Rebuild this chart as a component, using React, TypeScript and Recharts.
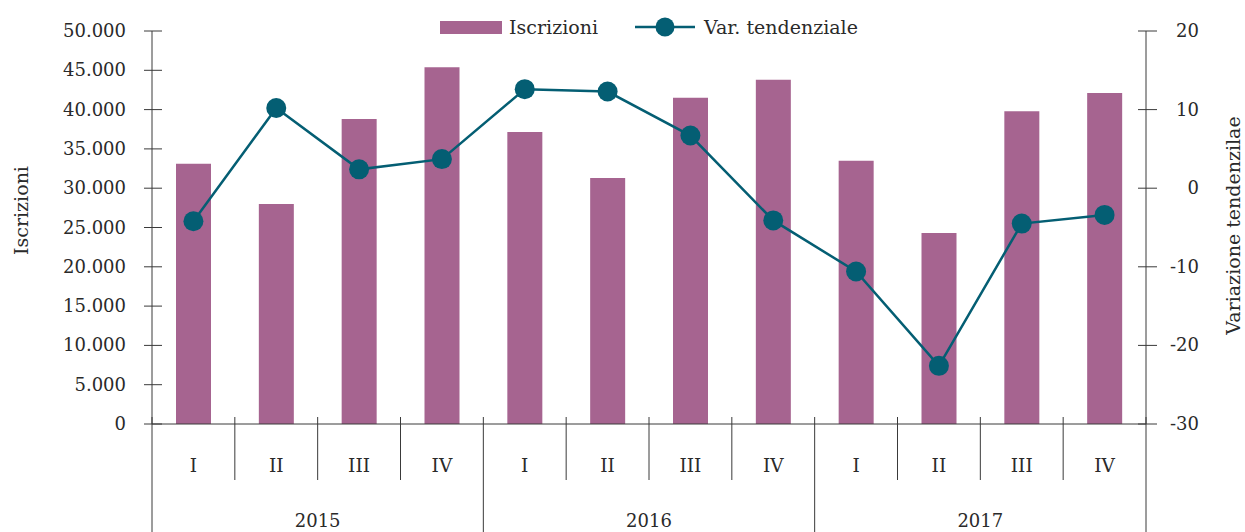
import { ComposedChart, Bar, Line, XAxis, YAxis } from "recharts"

const years = ["2015", "2016", "2017"]
const quarters = ["I", "II", "III", "IV"]

const iscrizioni = [
    33100, 28000, 38800, 45400,
    37150, 31300, 41500, 43800,
    33500, 24300, 39800, 42100,
]

const variazione = [
    -4.2, 10.2, 2.4, 3.7,
    12.6, 12.3, 6.7, -4.1,
    -10.6, -22.6, -4.5, -3.4,
]

const leftTicks = [0, 5000, 10000, 15000, 20000, 25000, 30000, 35000, 40000, 45000, 50000]
const rightTicks = [-30, -20, -10, 0, 10, 20]

const data = iscrizioni.map((v, i) => ({
    key: years[Math.floor(i / 4)] + "-" + quarters[i % 4],
    iscrizioni: v,
    variazione: variazione[i],
}))

const W = 1245
const H = 532
const LEFT_W = 152
const RIGHT_W = 99
const TOP = 31
const BOTTOM = 108
const BAND = (W - LEFT_W - RIGHT_W) / data.length

const BAR_COLOR = "#a66490"
const LINE_COLOR = "#045e73"
const AXIS_COLOR = "#3a3a3a"
const TEXT_COLOR = "#2a2a2a"
const FONT = "'DejaVu Serif', serif"

const fmtThousands = (n: number) =>
    String(n).replace(/\B(?=(\d{3})+(?!\d))/g, ".")

const LeftTick = (props: any) => {
    const { x, y, payload } = props
    return (
        <g>
            <line x1={x - 8} x2={x + 10} y1={y} y2={y} stroke={AXIS_COLOR} strokeWidth={1} />
            <text x={x - 26} y={y + 6} textAnchor="end" fill={TEXT_COLOR} fontSize={18} fontFamily={FONT}>
                {fmtThousands(payload.value)}
            </text>
        </g>
    )
}

const RightTick = (props: any) => {
    const { x, y, payload } = props
    return (
        <g>
            <line x1={x - 8} x2={x + 11} y1={y} y2={y} stroke={AXIS_COLOR} strokeWidth={1} />
            <text x={x + 53} y={y + 6} textAnchor="end" fill={TEXT_COLOR} fontSize={18} fontFamily={FONT}>
                {String(payload.value)}
            </text>
        </g>
    )
}

const XTick = (props: any) => {
    const { x, y, index } = props
    const half = BAND / 2
    const yearStart = index % 4 === 0
    const last = index === data.length - 1
    return (
        <g>
            <line
                x1={x - half}
                x2={x - half}
                y1={y - 7}
                y2={yearStart ? H : y + 56}
                stroke={AXIS_COLOR}
                strokeWidth={1}
            />
            {last && (
                <line x1={x + half} x2={x + half} y1={y - 7} y2={H} stroke={AXIS_COLOR} strokeWidth={1} />
            )}
            <text x={x} y={y + 48} textAnchor="middle" fill={TEXT_COLOR} fontSize={18.5} fontFamily={FONT}>
                {quarters[index % 4]}
            </text>
            {index % 4 === 1 && (
                <text x={x + half} y={y + 103} textAnchor="middle" fill={TEXT_COLOR} fontSize={18} fontFamily={FONT}>
                    {years[Math.floor(index / 4)]}
                </text>
            )}
        </g>
    )
}

// legend drawn outside the chart so it doesn't push the plot area down
const ChartLegend = () => (
    <div
        style={{
            position: "absolute",
            top: 15,
            left: LEFT_W,
            width: W - LEFT_W - RIGHT_W,
            display: "flex",
            justifyContent: "center",
            alignItems: "center",
            fontFamily: FONT,
            fontSize: 19,
            color: TEXT_COLOR,
            lineHeight: "24px",
        }}
    >
        <span style={{ display: "inline-block", width: 62, height: 13, background: BAR_COLOR, marginRight: 7 }} />
        <span>Iscrizioni</span>
        <svg width={60} height={22} style={{ marginLeft: 37, marginRight: 9 }}>
            <line x1={0} x2={60} y1={11} y2={11} stroke={LINE_COLOR} strokeWidth={2.5} />
            <circle cx={30} cy={11} r={9.5} fill={LINE_COLOR} />
        </svg>
        <span>Var. tendenziale</span>
    </div>
)

export default function App() {
    return (
        <div style={{ position: "absolute", left: 0, top: 0, width: W, height: H, background: "#fff" }}>
            <ComposedChart
                width={W}
                height={H}
                data={data}
                margin={{ top: TOP, right: 0, bottom: 0, left: 0 }}
                barSize={35}
            >
                <XAxis
                    dataKey="key"
                    interval={0}
                    tickLine={false}
                    tickSize={0}
                    tickMargin={0}
                    axisLine={{ stroke: AXIS_COLOR }}
                    tick={<XTick />}
                    height={BOTTOM}
                />
                <YAxis
                    yAxisId="left"
                    orientation="left"
                    width={LEFT_W}
                    domain={[0, 50000]}
                    ticks={leftTicks}
                    interval={0}
                    tickLine={false}
                    tickSize={0}
                    tickMargin={0}
                    axisLine={{ stroke: AXIS_COLOR }}
                    tick={<LeftTick />}
                    label={{
                        content: (p: any) => {
                            const vb = p.viewBox
                            const cx = 28
                            const cy = vb.y + vb.height / 2 - 17
                            return (
                                <text
                                    x={cx}
                                    y={cy}
                                    transform={`rotate(-90, ${cx}, ${cy})`}
                                    textAnchor="middle"
                                    fill={TEXT_COLOR}
                                    fontSize={19}
                                    fontFamily={FONT}
                                >
                                    Iscrizioni
                                </text>
                            )
                        },
                    }}
                />
                <YAxis
                    yAxisId="right"
                    orientation="right"
                    width={RIGHT_W}
                    domain={[-30, 20]}
                    ticks={rightTicks}
                    interval={0}
                    tickLine={false}
                    tickSize={0}
                    tickMargin={0}
                    axisLine={{ stroke: AXIS_COLOR }}
                    tick={<RightTick />}
                    label={{
                        content: (p: any) => {
                            const vb = p.viewBox
                            const cx = 1240
                            const cy = vb.y + vb.height / 2 - 2
                            return (
                                <text
                                    x={cx}
                                    y={cy}
                                    transform={`rotate(-90, ${cx}, ${cy})`}
                                    textAnchor="middle"
                                    fill={TEXT_COLOR}
                                    fontSize={19}
                                    fontFamily={FONT}
                                >
                                    Variazione tendenzilae
                                </text>
                            )
                        },
                    }}
                />
                <Bar yAxisId="left" dataKey="iscrizioni" name="Iscrizioni" fill={BAR_COLOR} isAnimationActive={false} />
                <Line
                    yAxisId="right"
                    dataKey="variazione"
                    name="Var. tendenziale"
                    stroke={LINE_COLOR}
                    strokeWidth={2.5}
                    dot={{ r: 10, fill: LINE_COLOR, stroke: LINE_COLOR, strokeWidth: 0 }}
                    activeDot={false}
                    isAnimationActive={false}
                />
            </ComposedChart>
            <ChartLegend />
        </div>
    )
}
